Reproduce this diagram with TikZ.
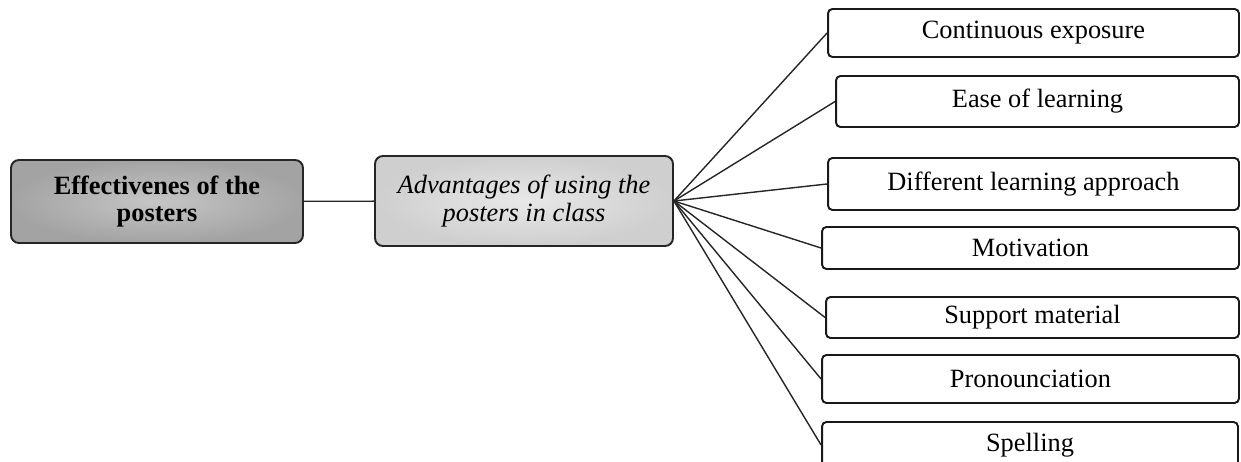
\documentclass[tikz,border=0pt]{standalone}
\usepackage{fontspec}
\setmainfont{Liberation Serif}

\begin{document}
\begin{tikzpicture}[x=0.02cm, y=-0.02cm]
\tikzstyle{every node} = [inner sep=2, align=center, font=\fontsize{15}{15.5}\selectfont]
\tikzstyle{main} = [draw=black!85, line width=1.1, rounded corners=4.5]
\tikzstyle{item} = [draw=black!90, line width=1.1, rounded corners=2.5, fill=white]
\tikzstyle{edge} = [draw, line width=0.8, black!85]
\useasboundingbox (0,0) rectangle (1241,462);
\clip (0,0) rectangle (1241,462);
\node[main, inner color=gray!45, outer color=gray!72, minimum width=5.84cm, minimum height=1.66cm,
  font=\fontsize{15}{15.5}\selectfont\bfseries] (eff) at (157, 201.5) {Effectivenes of the\\posters};
\node[main, inner color=gray!18, outer color=gray!38, minimum width=5.96cm, minimum height=1.80cm,
  font=\fontsize{15}{15.5}\selectfont\itshape] (adv) at (524, 201) {Advantages of using the\\posters in class};
\node[item, minimum width=8.22cm, minimum height=0.96cm] (item_1) at (1033.5, 33) {Continuous exposure};
\node[item, minimum width=8.06cm, minimum height=1.02cm] (item_2) at (1037.5, 101.5) {Ease of learning};
\node[item, minimum width=8.22cm, minimum height=1.04cm] (item_3) at (1033.5, 184) {Different learning approach};
\node[item, minimum width=8.34cm, minimum height=0.84cm] (item_4) at (1030.5, 248) {Motivation};
\node[item, minimum width=8.26cm, minimum height=0.82cm] (item_5) at (1032.5, 317.5) {Support material};
\node[item, minimum width=8.34cm, minimum height=0.96cm] (item_6) at (1030.5, 379) {Pronounciation};
\node[item, minimum width=8.32cm, minimum height=0.92cm] (item_7) at (1030, 445) {Spelling};
\draw[edge] (eff) -- (adv);
\draw[edge] (adv.east) -- (item_1.west);
\draw[edge] (adv.east) -- (item_2.west);
\draw[edge] (adv.east) -- (item_3.west);
\draw[edge] (adv.east) -- (item_4.west);
\draw[edge] (adv.east) -- (item_5.west);
\draw[edge] (adv.east) -- (item_6.west);
\draw[edge] (adv.east) -- (item_7.west);
\end{tikzpicture}
\end{document}
